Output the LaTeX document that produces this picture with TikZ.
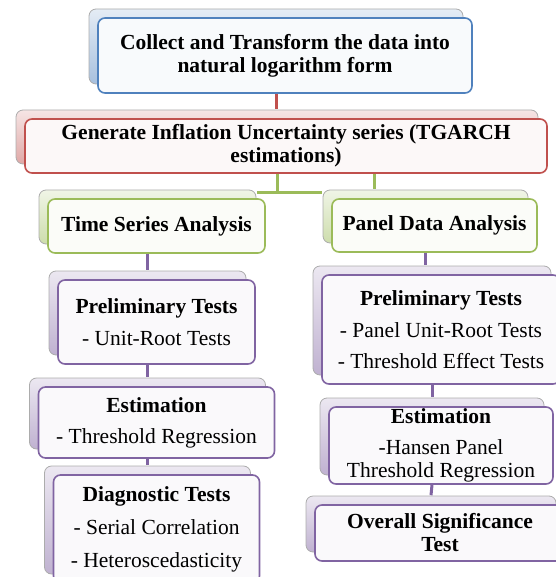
\documentclass[tikz,border=0pt]{standalone}
\usepackage{fontspec}
\setmainfont{Liberation Serif}
\usetikzlibrary{shadows}

\definecolor{bluebd}{HTML}{4F81BD}
\definecolor{redbd}{HTML}{C0504D}
\definecolor{greenbd}{HTML}{9BBB59}
\definecolor{purplebd}{HTML}{8064A2}

\begin{document}
\begin{tikzpicture}[x=1pt,y=-1pt,
    card/.style={draw=#1,line width=1.6pt,rounded corners=7pt,fill=#1!4!white,
      inner sep=0pt,align=center,font=\fontsize{21.5}{23}\selectfont,
      copy shadow={shadow xshift=-9pt,shadow yshift=9pt,draw=gray!65,line width=0.8pt,
        top color=#1!15!white,bottom color=#1!50!white}},
    link/.style={draw=#1,line width=3pt}]
    \useasboundingbox (0,0) rectangle (555,577);

    \node[card=bluebd]   (collect)  at (285,55.5)  [minimum width=374pt,minimum height=75pt]
        {\textbf{Collect and Transform the data into}\\\textbf{natural logarithm form}};
    \node[card=redbd]    (generate) at (286,146)   [minimum width=522pt,minimum height=54pt]
        {\textbf{Generate Inflation Uncertainty series (TGARCH}\\\textbf{estimations)}};
    \node[card=greenbd]  (tsa)      at (156.5,226) [minimum width=217pt,minimum height=54pt]
        {\textbf{Time Series Analysis}};
    \node[card=greenbd]  (pda)      at (434.5,225.5) [minimum width=205pt,minimum height=53pt]
        {\textbf{Panel Data Analysis}};

    % time series column
    \node[card=purplebd] (tsprelim) at (156.5,322) [minimum width=197pt,minimum height=84pt]
        {\textbf{Preliminary Tests}\\[9pt]- Unit-Root Tests};
    \node[card=purplebd] (tsest)    at (156.5,422.5) [minimum width=236pt,minimum height=71pt]
        {\textbf{Estimation}\\[8pt]- Threshold Regression};
    \node[card=purplebd] (tsdiag)   at (156.5,529) [minimum width=206pt,minimum height=108pt]
        {\textbf{Diagnostic Tests}\\[10pt]- Serial Correlation\\[10pt]- Heteroscedasticity};

    % panel data column
    \node[card=purplebd] (pdprelim) at (441,329.5) [minimum width=238pt,minimum height=109pt]
        {\textbf{Preliminary Tests}\\[9pt]- Panel Unit-Root Tests\\[8pt]- Threshold Effect Tests};
    \node[card=purplebd] (pdest)    at (441,445.5) [minimum width=224pt,minimum height=77pt]
        {\textbf{Estimation}\\[8pt]-Hansen Panel\\Threshold Regression};
    \node[card=purplebd] (pdsig)    at (440,533)   [minimum width=250pt,minimum height=56pt]
        {\textbf{Overall Significance}\\\textbf{Test}};

    \path[link=redbd]    ([xshift=-9pt]collect.south) edge ([shift={(-9pt,9pt)}]collect.south |- generate.north);
    \draw[link=greenbd]  ([xshift=-9pt]generate.south) |- ([shift={(-9pt,6pt)}]tsa.north east);
    \draw[link=greenbd]  ([xshift=-9pt]generate.south) |- ([shift={(-9pt,6pt)}]pda.north west);
    \draw[link=greenbd]  ([xshift=43pt]pda.north west |- generate.south) -- ([shift={(43pt,9pt)}]pda.north west);
    \path[link=purplebd] ([xshift=-9pt]tsa.south)      edge ([shift={(-9pt,9pt)}]tsprelim.north)
                         ([xshift=-9pt]tsprelim.south) edge ([shift={(-9pt,9pt)}]tsest.north)
                         ([xshift=-9pt]tsest.south)    edge ([shift={(-9pt,9pt)}]tsdiag.north)
                         ([xshift=-9pt]pda.south)      edge ([shift={(-9pt,9pt)}]pda.south |- pdprelim.north)
                         ([xshift=-9pt]pdprelim.south) edge ([shift={(-9pt,9pt)}]pdest.north)
                         ([xshift=-9pt]pdest.south)    edge ([shift={(-9pt,9pt)}]pdsig.north);
\end{tikzpicture}
\end{document}
